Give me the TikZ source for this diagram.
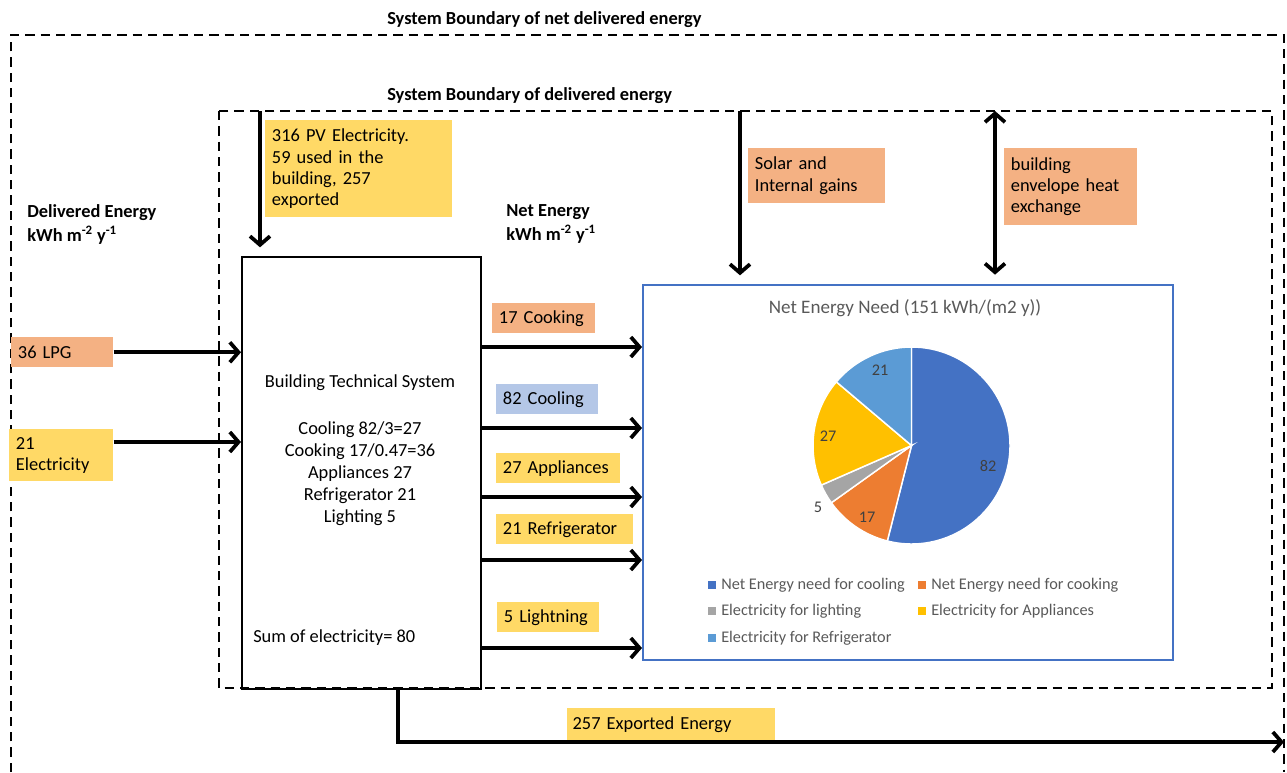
\documentclass[tikz,border=0pt]{standalone}
\usepackage{fontspec}
\setmainfont{Carlito}
\usetikzlibrary{arrows.meta}
\definecolor{lorange}{HTML}{F4B183}
\definecolor{lyellow}{HTML}{FFD966}
\definecolor{lblue}{HTML}{B4C7E7}
\definecolor{chartblue}{HTML}{4472C4}
\definecolor{pcool}{HTML}{4472C4}
\definecolor{pcook}{HTML}{ED7D31}
\definecolor{plight}{HTML}{A5A5A5}
\definecolor{papp}{HTML}{FFC000}
\definecolor{pref}{HTML}{5B9BD5}
\definecolor{ctext}{HTML}{595959}
\definecolor{ptext}{HTML}{404040}
\begin{document}
\begin{tikzpicture}[x=0.75pt,y=-0.75pt,
  bnd/.style={line width=1.6pt, dash pattern=on 7pt off 4.5pt},
  flow/.style={line width=3.2pt, -{Straight Barb[length=6.5pt,width=15pt,line width=2.8pt]}},
  dflow/.style={line width=3.2pt, {Straight Barb[length=6.5pt,width=15pt,line width=2.8pt]}-{Straight Barb[length=6.5pt,width=15pt,line width=2.8pt]}},
  lbl/.style={inner xsep=5pt, inner ysep=0pt, anchor=north west, align=left, font=\fontsize{13.8}{16}\selectfont},
  txt/.style={inner sep=0pt, font=\fontsize{13.8}{16.5}\selectfont},
  head/.style={inner sep=0pt, anchor=west, align=left, font=\fontsize{13.8}{18}\selectfont\bfseries},
  leg/.style={inner sep=0pt, anchor=west, text=ctext, font=\fontsize{12.2}{14}\selectfont},
  plab/.style={inner sep=0pt, text=ptext, font=\fontsize{12.2}{14}\selectfont},
  slice/.style={draw=white, line width=1.1pt}]
\useasboundingbox (0,0) rectangle (1287,772);

% boundaries
\draw[bnd] (11,772) -- (11,35) -- (1284,35) -- (1284,772);
\draw[bnd] (219,111) rectangle (1272,688);
\node[head] (t1) at (387,20) {System Boundary of net delivered energy};
\node[head] (t2) at (387,96) {System Boundary of delivered energy};

\node[head] (de) at (27,224) {Delivered Energy\\kWh m\textsuperscript{-2} y\textsuperscript{-1}};
\node[head] (ne) at (506,224) {Net Energy\\kWh m\textsuperscript{-2} y\textsuperscript{-1}};

% building technical system
\node[draw, line width=1.5pt, anchor=north west, minimum width=179.25pt, minimum height=324pt, inner sep=0pt] (bts) at (241,256) {};
\node[txt] (btst) at (360,383) {Building Technical System};
\node[txt, align=center] (btsl) at (360,474) {Cooling 82/3=27\\Cooking 17/0.47=36\\Appliances 27\\Refrigerator 21\\Lighting 5};
\node[txt, anchor=west] (sum) at (253,638) {Sum of electricity= 80};

% chart frame
\node[draw=chartblue, line width=1.3pt, anchor=north west, minimum width=397.5pt, minimum height=281.25pt, inner sep=0pt] (chart) at (642,284) {};

% input labels
\node[lbl, fill=lorange, text width=66.5pt, minimum height=22.5pt] (lpg) at (11,337) {36 LPG};
\node[lbl, fill=lyellow, text width=68pt, minimum height=39pt] (elec) at (9,429) {21\\Electricity};
\node[lbl, fill=lyellow, text width=130pt, minimum height=72.75pt] (pv) at (265,120) {316 PV Electricity.\\59 used in the\\building, 257\\exported};
\node[lbl, fill=lorange, text width=92.75pt, minimum height=41.25pt] (solar) at (748,148) {Solar and\\Internal gains};
\node[lbl, fill=lorange, text width=89.75pt, minimum height=57.75pt] (env) at (1004,148) {building\\envelope heat\\exchange};

% output labels
\node[lbl, fill=lorange, text width=67.25pt, minimum height=22.5pt] (cook) at (492,303) {17 Cooking};
\node[lbl, fill=lblue, text width=66.5pt, minimum height=22.5pt] (cool) at (496,384) {82 Cooling};
\node[lbl, fill=lyellow, text width=83pt, minimum height=22.5pt] (app) at (496,453) {27 Appliances};
\node[lbl, fill=lyellow, text width=92.75pt, minimum height=22.5pt] (fridge) at (496,514) {21 Refrigerator};
\node[lbl, fill=lyellow, text width=66.5pt, minimum height=22.5pt] (light) at (497,602) {5 Lightning};
\node[lbl, fill=lyellow, text width=147.5pt, minimum height=24pt, inner xsep=4pt] (exp) at (567,708) {257 Exported Energy};

% coordinates
\coordinate (pvtop) at (260,111);
\coordinate (soltop) at (740,111);
\coordinate (envtop) at (995,111);
\coordinate (expdown) at (398,742);
\coordinate (expend) at (1284,742);

% input arrows
\draw[flow] (lpg.east) -- (lpg.east -| bts.west);
\draw[flow] (elec.east |- 0,442) -- (bts.west |- 0,442);
\draw[flow, shorten >=6.5pt] (pvtop) -- (pvtop |- bts.north);
\draw[flow, shorten >=6.5pt] (soltop) -- (soltop |- chart.north);
\draw[dflow, shorten >=7pt] (envtop) -- (envtop |- chart.north);

% output arrows
\draw[flow] (bts.east |- 0,347) -- (chart.west |- 0,347);
\draw[flow] (bts.east |- 0,428) -- (chart.west |- 0,428);
\draw[flow] (bts.east |- 0,497) -- (chart.west |- 0,497);
\draw[flow] (bts.east |- 0,560) -- (chart.west |- 0,560);
\draw[flow] (bts.east |- 0,648) -- (chart.west |- 0,648);
\draw[flow] (bts.south -| expdown) -- (expdown) -- (expend);

% chart
\node[inner sep=0pt, text=ctext, font=\fontsize{14.3}{17}\selectfont] (ctitle) at (905,308) {Net Energy Need (151 kWh/(m2 y))};
\begin{scope}[shift={(911.5,445.5)}, x=0.75pt, y=0.75pt]
  \filldraw[slice, fill=pcool] (0,0) -- (90:98.5) arc[start angle=90, end angle=-104.21, radius=98.5] -- cycle;
  \filldraw[slice, fill=pcook] (0,0) -- (-104.21:98.5) arc[start angle=-104.21, end angle=-144.47, radius=98.5] -- cycle;
  \filldraw[slice, fill=plight] (0,0) -- (-144.47:98.5) arc[start angle=-144.47, end angle=-156.31, radius=98.5] -- cycle;
  \filldraw[slice, fill=papp] (0,0) -- (-156.31:98.5) arc[start angle=-156.31, end angle=-220.26, radius=98.5] -- cycle;
  \filldraw[slice, fill=pref] (0,0) -- (-220.26:98.5) arc[start angle=-220.26, end angle=-270, radius=98.5] -- cycle;
\end{scope}
\node[plab] (v82) at (988,466) {82};
\node[plab] (v21) at (880,370) {21};
\node[plab] (v27) at (828,436) {27};
\node[plab] (v5) at (818,507) {5};
\node[plab] (v17) at (867,517) {17};

% legend
\fill[pcool] (708,581) rectangle (716,589);
\node[leg] (l1) at (721,585) {Net Energy need for cooling};
\fill[pcook] (918,581) rectangle (926,589);
\node[leg] (l2) at (931,585) {Net Energy need for cooking};
\fill[plight] (708,607) rectangle (716,615);
\node[leg] (l3) at (721,611) {Electricity for lighting};
\fill[papp] (918,607) rectangle (926,615);
\node[leg] (l4) at (931,611) {Electricity for Appliances};
\fill[pref] (708,634) rectangle (716,642);
\node[leg] (l5) at (721,638) {Electricity for Refrigerator};
\end{tikzpicture}
\end{document}
